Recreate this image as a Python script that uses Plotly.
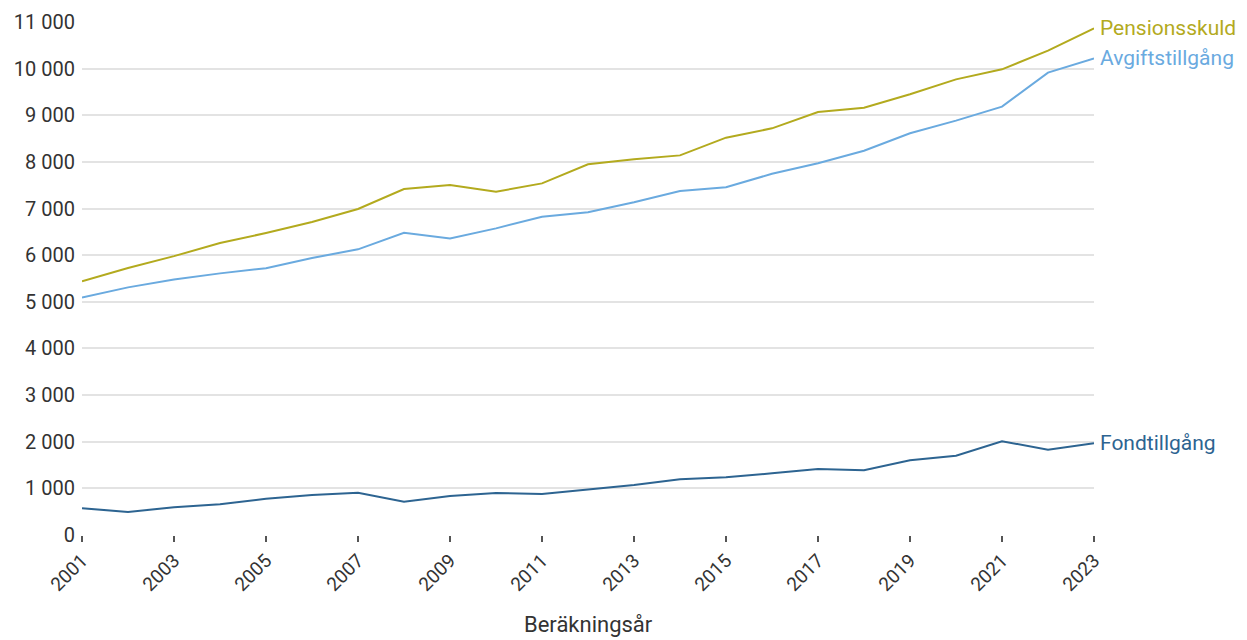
import plotly.graph_objects as go

years = list(range(2001, 2024))

pensionsskuld = [5440, 5725, 5980, 6260, 6475, 6710, 6990, 7420, 7505, 7360,
                 7540, 7950, 8055, 8140, 8520, 8720, 9070, 9160, 9450, 9770,
                 9985, 10385, 10865]
avgiftstillgang = [5090, 5310, 5480, 5610, 5720, 5940, 6125, 6480, 6360, 6575,
                   6825, 6920, 7135, 7375, 7455, 7745, 7970, 8240, 8615, 8885,
                   9185, 9915, 10220]
fondtillgang = [575, 495, 594, 658, 779, 858, 907, 714, 836, 900,
                879, 970, 1072, 1194, 1237, 1323, 1415, 1387, 1601, 1701,
                2009, 1830, 1966]

series = [
    ("Pensionsskuld", pensionsskuld, "#B3AA1E"),
    ("Avgiftstillgång", avgiftstillgang, "#6AAADF"),
    ("Fondtillgång", fondtillgang, "#2D6491"),
]

y_ticks = list(range(0, 11001, 1000))
x_ticks = list(range(2001, 2024, 2))

FONT = "Roboto"
TEXT = "#333333"

fig = go.Figure()
for name, vals, color in series:
    fig.add_trace(go.Scatter(
        x=years, y=vals, mode="lines", name=name,
        line=dict(color=color, width=2),
        hoverinfo="skip",
    ))
    fig.add_annotation(
        x=years[-1], y=vals[-1], text=name,
        xref="x", yref="y", xanchor="left", yanchor="middle",
        xshift=4, showarrow=False,
        font=dict(family=FONT, size=21, color=color),
    )

# x-axis title placed below the rotated year labels
fig.add_annotation(
    x=0.5, y=0, xref="paper", yref="paper",
    xanchor="center", yanchor="middle", yshift=-89,
    text="Beräkningsår", showarrow=False,
    font=dict(family=FONT, size=22, color=TEXT),
)

fig.update_layout(
    width=1247, height=640,
    margin=dict(l=82, r=153, t=22, b=105),
    paper_bgcolor="white", plot_bgcolor="white",
    showlegend=False,
    separators=", ",
    font=dict(family=FONT, color=TEXT),
)
fig.update_xaxes(
    range=[2001, 2023],
    tickmode="array", tickvals=x_ticks, ticktext=[str(v) for v in x_ticks],
    tickangle=-45,
    tickfont=dict(family=FONT, size=19, color=TEXT),
    ticks="outside", ticklen=6, tickwidth=1.5, tickcolor="#555555",
    showgrid=False, zeroline=False,
    showline=False, automargin=False,
)
fig.update_yaxes(
    range=[0, 11000],
    tickmode="array", tickvals=y_ticks,
    tickformat=",d",
    tickfont=dict(family=FONT, size=20, color=TEXT),
    showgrid=True, gridcolor="#E3E3E3", gridwidth=1.5,
    zeroline=False, showline=False, automargin=False,
    ticks="", ticklabelstandoff=6,
)

fig.write_html("out.html")
